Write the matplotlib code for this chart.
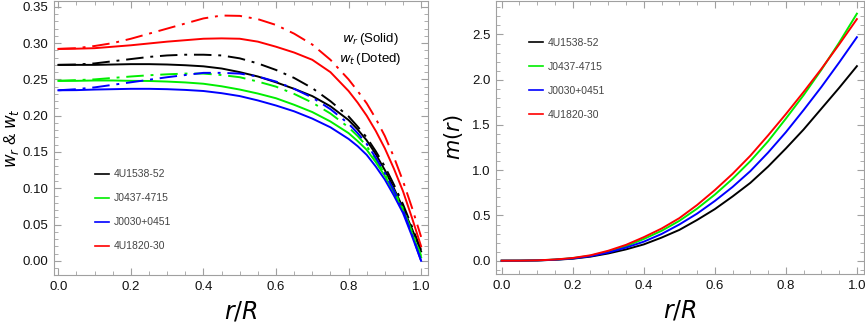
import numpy as np
import matplotlib
matplotlib.use("Agg")
import matplotlib.pyplot as plt
from matplotlib.ticker import MultipleLocator

plt.rcParams['font.family'] = ['Liberation Sans', 'DejaVu Sans']

names = ["4U1538-52", "J0437-4715", "J0030+0451", "4U1820-30"]
colors = ["#000000", "#00ee00", "#0000ff", "#ff0000"]

r_w = [0.0, 0.05, 0.1, 0.15, 0.2, 0.25, 0.3, 0.35, 0.4, 0.45, 0.5,
       0.55, 0.6, 0.65, 0.7, 0.75, 0.8, 0.825, 0.85, 0.875, 0.9, 0.925, 0.95, 0.975, 1.0]

# radial EoS parameter w_r (solid)
wr_4U1538 = [0.270, 0.270, 0.270, 0.2705, 0.271, 0.271, 0.2705, 0.2695, 0.268, 0.265, 0.260,
             0.254, 0.246, 0.237, 0.227, 0.213, 0.194, 0.181, 0.166, 0.147, 0.125, 0.100, 0.073, 0.044, 0.013]
wr_J0437 = [0.248, 0.248, 0.2485, 0.2485, 0.248, 0.2478, 0.247, 0.2458, 0.244, 0.2405, 0.236,
            0.2305, 0.224, 0.215, 0.205, 0.192, 0.176, 0.165, 0.153, 0.136, 0.117, 0.094, 0.070, 0.038, 0.005]
wr_J0030 = [0.235, 0.2352, 0.236, 0.2365, 0.237, 0.237, 0.2365, 0.2355, 0.234, 0.231, 0.227,
            0.221, 0.214, 0.206, 0.196, 0.184, 0.168, 0.158, 0.146, 0.130, 0.112, 0.090, 0.066, 0.034, 0.000]
wr_4U1820 = [0.292, 0.2923, 0.293, 0.295, 0.297, 0.2995, 0.302, 0.304, 0.306, 0.3065, 0.306,
             0.302, 0.295, 0.287, 0.277, 0.260, 0.234, 0.218, 0.200, 0.179, 0.155, 0.127, 0.096, 0.059, 0.020]

# tangential EoS parameter w_t (dot-dashed)
wt_4U1538 = [0.270, 0.2705, 0.272, 0.275, 0.278, 0.281, 0.283, 0.284, 0.284, 0.283, 0.279,
             0.272, 0.263, 0.252, 0.238, 0.220, 0.199, 0.185, 0.170, 0.151, 0.130, 0.105, 0.078, 0.047, 0.015]
wt_J0437 = [0.248, 0.249, 0.250, 0.252, 0.254, 0.2557, 0.257, 0.258, 0.258, 0.256, 0.253,
            0.247, 0.240, 0.230, 0.218, 0.203, 0.184, 0.172, 0.158, 0.140, 0.120, 0.097, 0.072, 0.040, 0.007]
wt_J0030 = [0.235, 0.2365, 0.239, 0.2425, 0.246, 0.2495, 0.253, 0.256, 0.259, 0.259, 0.258,
            0.254, 0.247, 0.237, 0.225, 0.209, 0.189, 0.176, 0.161, 0.142, 0.121, 0.097, 0.070, 0.036, 0.000]
wt_4U1820 = [0.292, 0.293, 0.296, 0.300, 0.306, 0.313, 0.320, 0.327, 0.334, 0.338, 0.3375,
             0.333, 0.325, 0.313, 0.298, 0.277, 0.250, 0.234, 0.217, 0.196, 0.172, 0.143, 0.110, 0.073, 0.033]

r_m = [0.0, 0.05, 0.1, 0.15, 0.2, 0.25, 0.3, 0.35, 0.4, 0.45, 0.5,
       0.55, 0.6, 0.65, 0.7, 0.75, 0.8, 0.85, 0.9, 0.95, 1.0]

# mass function m(r)
m_4U1538 = [0.0, 0.0004, 0.003, 0.010, 0.022, 0.045, 0.080, 0.125, 0.180, 0.255, 0.340,
            0.450, 0.570, 0.710, 0.860, 1.040, 1.240, 1.450, 1.680, 1.910, 2.150]
m_J0437 = [0.0, 0.0005, 0.004, 0.012, 0.028, 0.055, 0.100, 0.160, 0.240, 0.330, 0.440,
           0.575, 0.730, 0.905, 1.100, 1.320, 1.570, 1.830, 2.110, 2.410, 2.730]
m_J0030 = [0.0, 0.0004, 0.003, 0.011, 0.025, 0.050, 0.090, 0.145, 0.210, 0.295, 0.400,
           0.520, 0.660, 0.815, 0.990, 1.195, 1.420, 1.665, 1.920, 2.190, 2.470]
m_4U1820 = [0.0, 0.0005, 0.004, 0.013, 0.030, 0.060, 0.110, 0.175, 0.260, 0.355, 0.470,
            0.615, 0.780, 0.960, 1.160, 1.385, 1.620, 1.865, 2.120, 2.390, 2.670]

wr_all = [wr_4U1538, wr_J0437, wr_J0030, wr_4U1820]
wt_all = [wt_4U1538, wt_J0437, wt_J0030, wt_4U1820]
m_all = [m_4U1538, m_J0437, m_J0030, m_4U1820]

W, H = 865, 328
fig = plt.figure(figsize=(W / 100, H / 100), dpi=100)
ax1 = fig.add_axes([54 / W, 1 - 275 / H, (428 - 54) / W, 274 / H])
ax2 = fig.add_axes([496 / W, 1 - 274 / H, (864 - 496) / W, 273 / H])

frame_col = "#a0a0a0"


def style(ax):
    for s in ax.spines.values():
        s.set_color(frame_col)
        s.set_linewidth(0.8)
        s.set_zorder(0)
    ax.tick_params(which="both", direction="in", top=True, right=True,
                   color=frame_col, labelsize=9.5, labelcolor="#111111", pad=4)
    ax.tick_params(which="major", length=5, width=0.8)
    ax.tick_params(which="minor", length=3, width=0.6)
    ax.xaxis.set_major_locator(MultipleLocator(0.2))
    ax.xaxis.set_minor_locator(MultipleLocator(0.05))
    ax.xaxis.set_major_formatter(matplotlib.ticker.FormatStrFormatter("%.1f"))


lw = 1.4
dd = (0, (9, 3.5, 1.5, 3.5))
for wr, wt, c in zip(wr_all, wt_all, colors):
    ax1.plot(r_w, wr, color=c, lw=lw)
    ax1.plot(r_w, wt, color=c, lw=lw, linestyle=dd)
style(ax1)
ax1.set_xlim(-0.012, 1.019)
ax1.set_ylim(-0.0195, 0.358)
ax1.yaxis.set_major_locator(MultipleLocator(0.05))
ax1.yaxis.set_minor_locator(MultipleLocator(0.01))
ax1.yaxis.set_major_formatter(matplotlib.ticker.FormatStrFormatter("%.2f"))
ax1.set_xlabel(r"$r/R$", fontsize=17, labelpad=5)
ax1.set_ylabel(r"$w_r$ & $w_t$", fontsize=12)
ax1.yaxis.set_label_coords(-0.088, 0.5)
ax1.text(0.86, 0.305, r"$w_r\,$(Solid)", fontsize=9.5, ha="center", va="center")
ax1.text(0.86, 0.278, r"$w_t\,$(Doted)", fontsize=9.5, ha="center", va="center")

for m, c in zip(m_all, colors):
    ax2.plot(r_m, m, color=c, lw=lw)
style(ax2)
ax2.set_xlim(-0.016, 1.02)
ax2.set_ylim(-0.147, 2.87)
ax2.yaxis.set_major_locator(MultipleLocator(0.5))
ax2.yaxis.set_minor_locator(MultipleLocator(0.1))
ax2.set_xlabel(r"$r/R$", fontsize=17, labelpad=5)
ax2.set_ylabel(r"$m(r)$", fontsize=15, labelpad=5)

leg_kw = dict(loc="upper left", frameon=False, fontsize=7.5, handlelength=1.3,
              handletextpad=0.5, labelspacing=1.35, labelcolor="#444444")
h1 = [matplotlib.lines.Line2D([], [], color=c, lw=1.2) for c in colors]
ax1.legend(h1, names, bbox_to_anchor=(0.085, 0.42), **leg_kw)
ax2.legend(h1, names, bbox_to_anchor=(0.065, 0.9), **leg_kw)

fig.savefig("out.png", dpi=100)
